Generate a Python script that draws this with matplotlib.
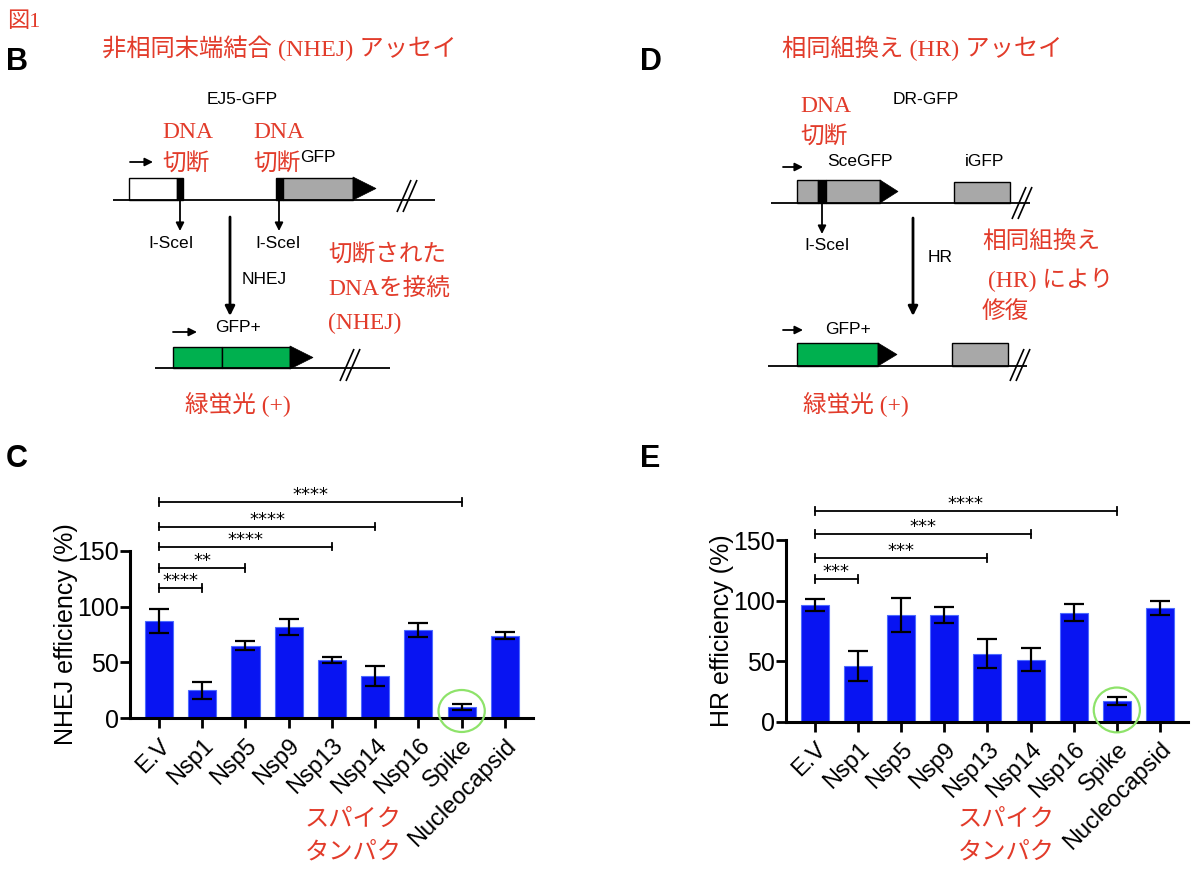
import matplotlib
matplotlib.use("Agg")
import matplotlib.pyplot as plt
from matplotlib.patches import Rectangle, Polygon, Ellipse

# ---------------- data ----------------
categories = ['E.V', 'Nsp1', 'Nsp5', 'Nsp9', 'Nsp13', 'Nsp14', 'Nsp16', 'Spike', 'Nucleocapsid']
nhej_mean = [87, 25, 65, 82, 52, 38, 79, 10, 74]
nhej_err = [11, 7.5, 4, 7, 3, 9, 6, 2.5, 3.3]
hr_mean = [96, 46, 88, 88, 56, 51, 90, 17, 94]
hr_err = [5, 12, 14, 6.5, 12, 9.5, 7, 3.5, 6]
nhej_pairs = [(0, 1), (0, 2), (0, 4), (0, 5), (0, 7)]
nhej_stars = ['****', '**', '****', '****', '****']
nhej_levels = [117, 135, 154, 172, 194]
hr_pairs = [(0, 1), (0, 4), (0, 5), (0, 7)]
hr_stars = ['***', '***', '***', '****']
hr_levels = [118, 135, 155, 174]
yticks = [0, 50, 100, 150]

RED = '#e23b2a'
BLUE = '#0814f2'
GREEN_BOX = '#00b04f'
GRAY = '#a8a8a8'
CIRCLE = '#8ee36a'
JP = ['Liberation Serif', 'Noto Sans CJK JP']
SANS = ['Liberation Sans', 'DejaVu Sans']

fig = plt.figure(figsize=(12, 8.76), dpi=100)

# ---------------- overlay (schematics, labels) ----------------
ov = fig.add_axes([0, 0, 1, 1], zorder=0)
ov.set_xlim(0, 1200)
ov.set_ylim(876, 0)
ov.axis('off')


def txt(x, y, s, size, color='black', family=SANS, ha='left', va='center', weight='normal'):
    ov.text(x, y, s, fontsize=size, color=color, family=family, ha=ha, va=va, weight=weight)


def line(x0, y0, x1, y1, lw=1.3):
    ov.plot([x0, x1], [y0, y1], color='black', lw=lw, solid_capstyle='butt')


def box(x0, y0, x1, y1, fc):
    ov.add_patch(Rectangle((x0, y0), x1 - x0, y1 - y0, facecolor=fc, edgecolor='black', lw=1.0))


def tri(x0, y0, x1, y1):
    ov.add_patch(Polygon([(x0, y0), (x0, y1), (x1, (y0 + y1) / 2)], closed=True,
                         facecolor='black', edgecolor='black', lw=0.5))


def arrow(x0, y0, x1, y1, lw=1.3, ms=12):
    ov.annotate('', xy=(x1, y1), xytext=(x0, y0),
                arrowprops=dict(arrowstyle='-|>', color='black', lw=lw, mutation_scale=ms,
                                shrinkA=0, shrinkB=0))


def slash(x, y):
    for dx in (-3, 3):
        line(x + dx - 7, y + 16, x + dx + 7, y - 16, lw=1.2)


# header
txt(7, 22, '図1', 16, RED, JP)
txt(6, 62, 'B', 22, 'black', SANS, weight='bold')
txt(640, 62, 'D', 22, 'black', SANS, weight='bold')
txt(6, 459, 'C', 22, 'black', SANS, weight='bold')
txt(640, 459, 'E', 22, 'black', SANS, weight='bold')

# ---- panel B ----
txt(102, 48, '非相同末端結合 (NHEJ) アッセイ', 17.5, RED, JP)
txt(242, 100, 'EJ5-GFP', 12.5, ha='center')
txt(162, 133, 'DNA', 17, RED, JP)
txt(162, 165, '切断', 17, RED, JP)
txt(253, 133, 'DNA', 17, RED, JP)
txt(253, 165, '切断', 17, RED, JP)
txt(300, 157, 'GFP', 12.5)
arrow(130, 162, 153, 162)
line(113, 200, 435, 200)
box(129, 178, 177, 200, 'white')
box(177, 178, 183, 200, 'black')
box(276, 178, 283, 200, 'black')
box(283, 178, 353, 200, GRAY)
tri(353, 177, 376, 200)
slash(407, 196)
arrow(180, 200, 180, 231)
arrow(279, 200, 279, 231)
txt(171, 243, 'I-SceI', 12.5, ha='center')
txt(278, 243, 'I-SceI', 12.5, ha='center')
arrow(230, 217, 230, 316, lw=2, ms=14)
txt(242, 280, 'NHEJ', 12.5)
txt(328, 256, '切断された', 17, RED, JP)
txt(328, 290, 'DNAを接続', 17, RED, JP)
txt(328, 323, '(NHEJ)', 17, RED, JP)
arrow(173, 332, 197, 332)
txt(215, 328, 'GFP+', 12.5)
line(155, 368, 390, 368)
box(173, 347, 222, 368, GREEN_BOX)
box(222, 347, 290, 368, GREEN_BOX)
tri(290, 346, 313, 369)
slash(350, 365)
txt(185, 405, '緑蛍光 (+)', 17, RED, JP)

# ---- panel D ----
txt(782, 48, '相同組換え (HR) アッセイ', 17.5, RED, JP)
txt(800, 107, 'DNA', 17, RED, JP)
txt(800, 138, '切断', 17, RED, JP)
txt(926, 100, 'DR-GFP', 12.5, ha='center')
arrow(783, 167, 803, 167)
txt(827, 162, 'SceGFP', 12.5)
txt(965, 162, 'iGFP', 12.5)
line(771, 203, 1030, 203)
box(797, 180, 818, 203, GRAY)
box(818, 180, 826, 203, 'black')
box(826, 180, 880, 203, GRAY)
tri(880, 180, 898, 203)
box(954, 182, 1010, 203, GRAY)
slash(1022, 203)
arrow(822, 203, 822, 234)
txt(827, 245, 'I-SceI', 12.5, ha='center')
arrow(913, 218, 913, 316, lw=2, ms=14)
txt(928, 258, 'HR', 12.5)
txt(982, 243, '相同組換え', 17, RED, JP)
txt(988, 280, '(HR) により', 17, RED, JP)
txt(982, 312, '修復', 17, RED, JP)
arrow(783, 330, 803, 330)
txt(825, 330, 'GFP+', 12.5)
line(768, 366, 1027, 366)
box(797, 343, 878, 366, GREEN_BOX)
tri(878, 343, 897, 366)
box(952, 343, 1008, 366, GRAY)
slash(1020, 365)
txt(803, 405, '緑蛍光 (+)', 17, RED, JP)

# red notes under charts
txt(305, 820, 'スパイク', 17.5, RED, JP)
txt(305, 853, 'タンパク', 17.5, RED, JP)
txt(958, 820, 'スパイク', 17.5, RED, JP)
txt(958, 853, 'タンパク', 17.5, RED, JP)


# ---------------- bar charts ----------------
def bar_panel(rect, means, errs, ylabel, pairs, stars, levels, circle_y, circle_h):
    ax = fig.add_axes(rect, zorder=2)
    ax.set_facecolor('none')
    x = list(range(len(categories)))
    ax.bar(x, means, width=0.65, color=BLUE, edgecolor='#4d6bff', lw=0.8, zorder=2)
    ax.errorbar(x, means, yerr=errs, fmt='none', ecolor='black', elinewidth=1.6,
                capsize=7, capthick=1.6, zorder=3)
    ax.set_xlim(-0.67, 8.65)
    ax.set_ylim(0, 150)
    ax.set_yticks(yticks)
    ax.set_xticks(x)
    ax.set_xticklabels(categories, rotation=45, ha='right', rotation_mode='anchor',
                       family=SANS, fontsize=17)
    for lab in ax.get_yticklabels():
        lab.set_family(SANS)
    ax.tick_params(axis='y', labelsize=18, width=2, length=7, pad=1)
    ax.tick_params(axis='x', width=2, length=7, pad=5)
    for s in ('top', 'right'):
        ax.spines[s].set_visible(False)
    for s in ('left', 'bottom'):
        ax.spines[s].set_linewidth(2.2)
    ax.set_ylabel(ylabel, fontsize=18, family=SANS, labelpad=-1)
    for (a, b), st, lv in zip(pairs, stars, levels):
        ax.plot([a, b], [lv, lv], color='black', lw=1.3, clip_on=False)
        for xe in (a, b):
            ax.plot([xe, xe], [lv - 3.5, lv + 3.5], color='black', lw=1.3, clip_on=False)
        ax.text((a + b) / 2, lv + 1.5, st, ha='center', va='baseline', fontsize=13,
                family='DejaVu Sans', clip_on=False)
    ax.add_patch(Ellipse((7, circle_y), 1.07, circle_h, facecolor='none',
                         edgecolor=CIRCLE, lw=1.6, clip_on=False, zorder=4))
    return ax


bar_panel([130 / 1200, 1 - 718 / 876, 403 / 1200, 167 / 876], nhej_mean, nhej_err,
          'NHEJ efficiency (%)', nhej_pairs, nhej_stars, nhej_levels, 6.3, 37.7)
bar_panel([786 / 1200, 1 - 721.7 / 876, 402 / 1200, 181.7 / 876], hr_mean, hr_err,
          'HR efficiency (%)', hr_pairs, hr_stars, hr_levels, 9.7, 37)

fig.savefig('out.png', dpi=100, facecolor='white')
